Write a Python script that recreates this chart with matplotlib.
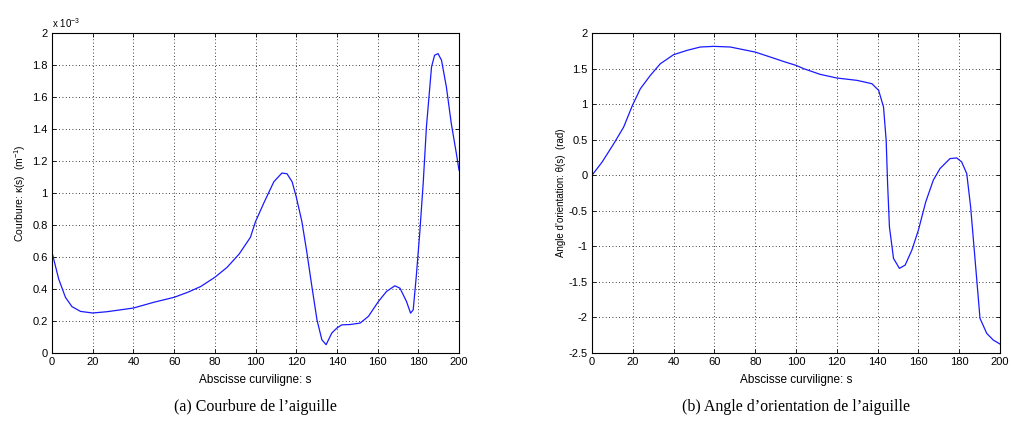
import matplotlib.pyplot as plt
import numpy as np

plt.rcParams['font.family'] = ['Liberation Sans', 'DejaVu Sans']
plt.rcParams['font.size'] = 8
plt.rcParams['mathtext.fontset'] = 'custom'
plt.rcParams['mathtext.rm'] = 'Liberation Sans'

# courbure (x 1e-3 m^-1) vs abscisse curviligne
s_a = [0, 3.3, 6.6, 9.8, 14, 20, 27, 40, 50, 60, 66.6, 73, 80, 86, 92, 97.5,
       100, 104, 109, 113, 115.5, 118, 120, 122.8, 125.3, 127.7, 130.2, 132.6,
       134.7, 137.5, 140, 142.4, 146.5, 151.4, 155.5, 160.4, 164.4, 168.5, 171,
       174.2, 176.2, 177.5, 179, 180.7, 182.4, 184, 186.5, 188, 189.7, 191.4,
       193.8, 196.2, 198.7, 200]
k_a = [0.629, 0.462, 0.348, 0.29, 0.26, 0.25, 0.258, 0.281, 0.317, 0.348, 0.379,
       0.415, 0.473, 0.535, 0.619, 0.723, 0.821, 0.935, 1.07, 1.125, 1.12, 1.07,
       0.977, 0.821, 0.624, 0.416, 0.208, 0.083, 0.052, 0.125, 0.156, 0.176,
       0.178, 0.187, 0.229, 0.322, 0.385, 0.42, 0.405, 0.322, 0.249, 0.27,
       0.478, 0.748, 1.06, 1.414, 1.788, 1.861, 1.871, 1.83, 1.663, 1.435,
       1.247, 1.143]

# angle d'orientation (rad)
s_b = [0, 4.9, 10.6, 15.5, 19.8, 23.7, 28.6, 33.5, 40, 46.6, 53.1, 59.8, 67.8,
       74.3, 80, 87.4, 94.7, 100, 103.8, 111.9, 120, 129.9, 137.2, 140.5, 142.9,
       144.2, 144.9, 145.8, 147.8, 150.7, 153.5, 156.8, 160, 163.6, 167.3,
       170.6, 175.5, 178.8, 181.2, 183.7, 185.6, 187.8, 190.2, 193.5, 196.7, 200]
t_b = [0, 0.183, 0.44, 0.676, 0.981, 1.216, 1.404, 1.568, 1.695, 1.756, 1.803,
       1.812, 1.803, 1.765, 1.732, 1.662, 1.592, 1.545, 1.498, 1.418, 1.367,
       1.334, 1.287, 1.194, 0.96, 0.49, -0.117, -0.726, -1.17, -1.31, -1.264,
       -1.053, -0.772, -0.375, -0.07, 0.094, 0.234, 0.243, 0.187, 0.023,
       -0.445, -1.194, -2.013, -2.224, -2.318, -2.374]

fig = plt.figure(figsize=(10.11, 4.32), dpi=100)
W, H = 1011, 432
ax1 = fig.add_axes([52 / W, 1 - 353 / H, 407 / W, 320 / H])
ax2 = fig.add_axes([592 / W, 1 - 353 / H, 408 / W, 320 / H])

ax1.plot(s_a, k_a, color='#1a1aff', lw=0.9)
ax1.set_ylim(0, 2)
ax1.set_yticks(np.arange(0, 2.01, 0.2))
ax1.set_yticklabels(['0', '0.2', '0.4', '0.6', '0.8', '1', '1.2', '1.4', '1.6', '1.8', '2'])
ax1.set_ylabel('Courbure: κ(s)  (m$^{-1}$)', labelpad=3, fontsize=7.5)
ax1.text(0, 1.01, 'x 10$^{-3}$', transform=ax1.transAxes, fontsize=7, va='bottom', ha='left')

ax2.plot(s_b, t_b, color='#1a1aff', lw=0.9)
ax2.set_ylim(-2.5, 2)
ax2.set_yticks(np.arange(-2.5, 2.01, 0.5))
ax2.set_yticklabels(['-2.5', '-2', '-1.5', '-1', '-0.5', '0', '0.5', '1', '1.5', '2'])
ax2.set_ylabel('Angle d\u2019orientation: θ(s)  (rad)', labelpad=2, fontsize=7)

for ax in (ax1, ax2):
    ax.set_xlim(0, 200)
    ax.set_xticks(np.arange(0, 201, 20))
    ax.set_xlabel('Abscisse curviligne: s', labelpad=5, fontsize=8.5)
    ax.grid(True, color='black', linestyle=(0, (1, 3)), linewidth=0.6)
    ax.tick_params(direction='in', top=True, right=True, length=3, width=0.6, pad=3)
    for sp in ax.spines.values():
        sp.set_linewidth(0.8)

fig.text(255 / W, 1 - 407 / H, '(a) Courbure de l\u2019aiguille', ha='center', va='center',
         fontsize=11.5, family='Liberation Serif')
fig.text(796 / W, 1 - 407 / H, '(b) Angle d\u2019orientation de l\u2019aiguille', ha='center', va='center',
         fontsize=11.5, family='Liberation Serif')

fig.savefig('out.png', dpi=100)
